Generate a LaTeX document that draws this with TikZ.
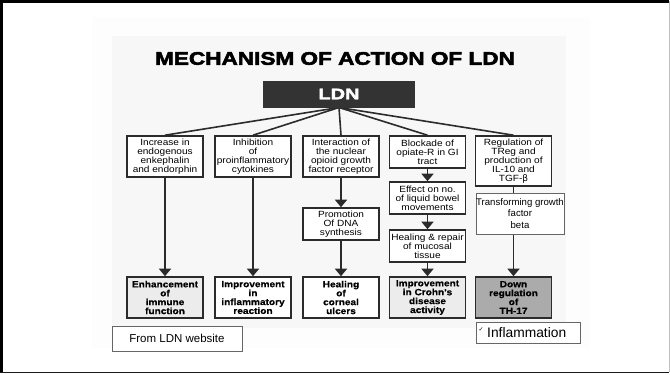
\documentclass[tikz,border=0pt]{standalone}
\usepackage{fontspec}
\setmainfont{Liberation Sans}
\newfontfamily\boxfont[FakeStretch=1.12]{Liberation Sans}
\newfontfamily\boxboldfont[FakeStretch=1.12,FakeBold=0.5]{Liberation Sans Bold}
\newfontfamily\titlefont[FakeStretch=1.24,FakeBold=3]{Liberation Sans Bold}
\newfontfamily\ldnfont[FakeStretch=1.3,FakeBold=2.5]{Liberation Sans Bold}
\newfontfamily\symfont{DejaVu Sans}
\usetikzlibrary{arrows.meta}
\pgfdeclarelayer{bgzero}
\pgfdeclarelayer{bgone}
\pgfsetlayers{bgzero,bgone,main}
\definecolor{boxline}{HTML}{2B2B2B}
\definecolor{panel}{HTML}{F7F7F7}
\definecolor{faint}{HTML}{FDFDFD}
\definecolor{lightfill}{HTML}{ECECEC}
\definecolor{darkfill}{HTML}{ABABAB}
\tikzset{
  mbox/.style={draw=boxline, line width=1.6pt, fill=white, inner sep=0pt,
    minimum width=76pt, align=center,
    font=\boxfont\fontsize{9}{8.9}\selectfont},
  rbox/.style={mbox, minimum height=41pt,
    font=\boxboldfont\fontsize{9}{8.9}\selectfont},
  conn/.style={draw=boxline, line width=1.6pt},
  arr/.style={conn, -{Triangle[width=12pt,length=7.5pt]}},
  note/.style={draw=black!60, line width=0.8pt, fill=white, inner sep=0pt, align=center}
}
\begin{document}
\begin{tikzpicture}[x=1pt,y=-1pt]
\useasboundingbox (0,0) rectangle (670,375);
% background and frame
\begin{pgfonlayer}{bgzero}
\fill[white] (0,0) rectangle (670,375);
\fill[faint] (92,17) rectangle (590,348);
\fill[panel] (112,36) rectangle (566,328);
\draw[black!25, line width=1pt] (669,1) -- (669,372);
\draw[black, line width=3pt] (1.5,372.5) -- (1.5,1.5) -- (669,1.5);
\draw[black!90, line width=1.5pt] (0,372.5) -- (669,372.5);
\end{pgfonlayer}

% title
\node[font=\titlefont\fontsize{18.2}{20}\selectfont] (title) at (335,58.5) {MECHANISM OF ACTION OF LDN};

% LDN
\node[draw=black!80, fill=black!80, line width=1pt, minimum width=151pt, minimum height=26pt,
      inner sep=0pt, text=white, font=\ldnfont\fontsize{15.4}{16}\selectfont] (ldn) at (339,94) {LDN};

% top row
\node[mbox, minimum height=41pt] (b1) at (165,156.5) {Increase in\\endogenous\\enkephalin\\and endorphin};
\node[mbox, minimum height=41pt] (b2) at (253,156.5) {Inhibition\\of\\proinflammatory\\cytokines};
\node[mbox, minimum height=41pt] (b3) at (341,156.5) {Interaction of\\the nuclear\\opioid growth\\factor receptor};
\node[mbox, minimum height=32pt] (b4) at (427.5,152) {Blockade of\\opiate-R in GI\\tract};
\node[mbox, minimum height=50pt] (b5) at (513.5,161) {Regulation of\\TReg and\\production of\\IL-10 and\\TGF-\symfont β};

% middle boxes
\node[mbox, minimum height=32pt] (m3) at (341,224) {Promotion\\Of DNA\\synthesis};
\node[mbox, minimum height=32pt] (m4a) at (427.5,198) {Effect on no.\\of liquid bowel\\movements};
\node[mbox, minimum height=32pt] (m4b) at (427.5,246) {Healing \& repair\\of mucosal\\tissue};

% bottom row
\node[rbox, fill=lightfill] (r1) at (165,297.5) {Enhancement\\of\\immune\\function};
\node[rbox, fill=white] (r2) at (253,297.5) {Improvement\\in\\inflammatory\\reaction};
\node[rbox, fill=white] (r3) at (341,297.5) {Healing\\of\\corneal\\ulcers};
\node[rbox, fill=lightfill] (r4) at (427.5,297.5) {Improvement\\in Crohn's\\disease\\activity};
\node[rbox, fill=darkfill] (r5) at (513.5,297.5) {Down\\regulation\\of\\TH-17};

% connectors from LDN (behind the boxes)
\begin{pgfonlayer}{bgone}
\foreach \b in {b1,b2,b3,b4,b5} \draw[conn] (ldn.south) -- (\b.north);
\end{pgfonlayer}

% arrows
\draw[arr] (b1.south) -- (r1.north);
\draw[arr] (b2.south) -- (r2.north);
\draw[arr] (b3.south) -- (m3.north);
\draw[arr] (m3.south) -- (r3.north);
\draw[arr] (b4.south) -- (m4a.north);
\draw[arr] (m4a.south) -- (m4b.north);
\draw[arr] (m4b.south) -- (r4.north);
\draw[arr] (b5.south) -- (r5.north);

% overlay notes
\node[note, minimum width=88pt, minimum height=41pt,
      font=\fontsize{9.6}{11.7}\selectfont] (tgf) at (520,213.5) {Transforming growth\\factor\\beta};
\node[note, minimum width=130pt, minimum height=25pt,
      font=\fontsize{11.5}{13}\selectfont] (src) at (177,338.5) {From LDN website};
\node[note, minimum width=104pt, minimum height=21pt] (infl) at (528,332.5) {};
\node[anchor=west, inner sep=0pt, font=\symfont\fontsize{6}{6}\selectfont] (chk) at (478.5,330) {✓};
\node[anchor=west, inner sep=0pt, font=\fontsize{13.8}{15}\selectfont] (infltxt) at (487,333) {Inflammation};
\end{tikzpicture}
\end{document}
